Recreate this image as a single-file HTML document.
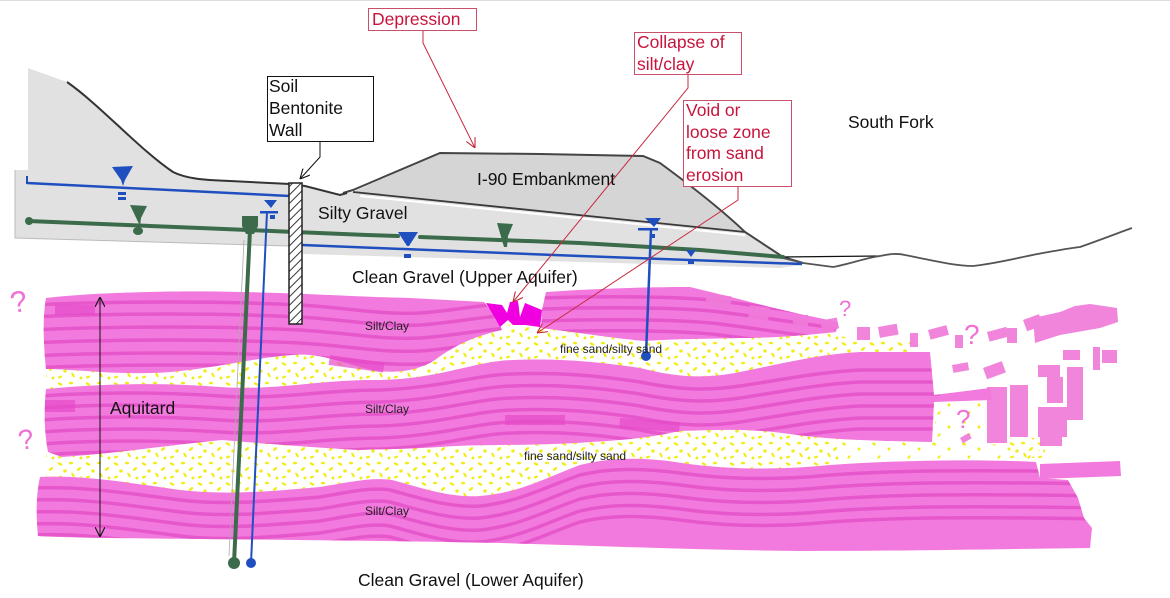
<!DOCTYPE html>
<html><head><meta charset="utf-8"><style>
html,body{margin:0;padding:0;background:#fff;}
svg{display:block;}
text{font-family:"Liberation Sans",Arial,sans-serif;}
</style></head><body>
<svg width="1170" height="598" viewBox="0 0 1170 598" xmlns="http://www.w3.org/2000/svg">
<defs>
<pattern id="sand" width="28" height="20" patternUnits="userSpaceOnUse">
<g fill="#f2ec1e">
<ellipse cx="4" cy="4" rx="2.7" ry="1.3" transform="rotate(30 4 4)"/>
<ellipse cx="15" cy="3" rx="2.2" ry="1.3"/>
<ellipse cx="23" cy="9" rx="2.5" ry="1.3" transform="rotate(-40 23 9)"/>
<ellipse cx="9" cy="11" rx="1.8" ry="1.6"/>
<ellipse cx="17" cy="15" rx="2.7" ry="1.2" transform="rotate(60 17 15)"/>
<ellipse cx="4" cy="17" rx="2.2" ry="1.2" transform="rotate(-20 4 17)"/>
<ellipse cx="25" cy="18" rx="1.5" ry="1.5"/>
</g>
</pattern>
<pattern id="sparse" width="30" height="22" patternUnits="userSpaceOnUse">
<g fill="#f2ec1e">
<ellipse cx="4" cy="4" rx="2" ry="1.3" transform="rotate(30 4 4)"/>
<ellipse cx="19" cy="9" rx="1.5" ry="1.5"/>
<ellipse cx="9" cy="17" rx="2" ry="1.1" transform="rotate(-50 9 17)"/>
</g>
</pattern>
<pattern id="hatch" width="6" height="6" patternUnits="userSpaceOnUse" patternTransform="rotate(45)">
<rect width="6" height="6" fill="#fff"/>
<line x1="0" y1="0" x2="0" y2="6" stroke="#222" stroke-width="1.8"/>
</pattern>
<marker id="ar" viewBox="0 0 10 10" refX="10" refY="5" markerWidth="10" markerHeight="10" orient="auto" markerUnits="userSpaceOnUse">
<path d="M0,0 L10,5 L0,10" fill="none" stroke="#c8283c" stroke-width="1.1"/>
</marker>
<marker id="ak" viewBox="0 0 10 10" refX="10" refY="5" markerWidth="10" markerHeight="10" orient="auto-start-reverse" markerUnits="userSpaceOnUse">
<path d="M0,0 L10,5 L0,10" fill="none" stroke="#111" stroke-width="1.1"/>
</marker>
<clipPath id="c1a"><path d="M46,298 C90,293 170,290 240,292 C300,293 360,297 410,298 L484,302 L497,318 L502,330 C475,336 455,345 435,360 C418,371 395,374 372,370 C345,364 320,352 292,355 C250,358 200,372 150,373 C105,374 72,369 46,369 C44,350 42,320 46,298 Z"/></clipPath>
<clipPath id="c1b"><path d="M546,292 C590,289 640,287 690,287 L727,296 L770,307 L800,314 L838,322 L836,332 C800,336 770,338 740,338 C700,339 670,339 645,341 C610,338 575,332 541,328 L542,310 Z"/></clipPath>
<clipPath id="c2"><path d="M46,389 C100,384 160,382 220,387 C280,391 320,379 380,380 C440,379 475,361 513,360 C560,358 600,362 640,368 C672,376 700,380 740,372 C780,364 820,354 860,352 L930,352 L934,395 L990,388 L992,400 L934,402 L932,442 C880,441 830,440 790,434 C750,428 715,430 680,431 C640,440 605,441 575,443 C520,446 480,444 440,447 C410,449 385,449 360,450 C320,448 270,444 222,440 C170,445 120,453 62,457 L48,452 C44,430 44,410 46,389 Z"/></clipPath>
<clipPath id="c3"><path d="M40,477 C80,475 125,482 180,490 C225,495 265,492 320,487 C350,482 372,477 392,480 C422,488 450,498 480,496 C520,493 550,476 580,465 C612,457 645,457 682,463 C730,470 780,470 830,465 C900,460 980,459 1036,462 L1040,478 L1068,480 L1078,498 L1084,518 L1092,528 L1090,548 C1000,549 900,551 800,551 C700,550 600,546 500,543 C400,541 300,540 200,539 C120,538 70,538 38,536 C36,515 36,495 40,477 Z"/></clipPath>
</defs>

<rect width="1170" height="598" fill="#fff"/>
<line x1="0" y1="0.5" x2="1170" y2="0.5" stroke="#ddd" stroke-width="1"/>

<!-- gray ground / silty gravel -->
<path d="M28,68 L67,82 C100,105 140,150 173,172 C185,178 200,180 230,181 L290,184 L305,186 L340,195 L347,193 L353,192 L745,232 L783,257 L802,265 L780,268 L580,262 L303,254 L290,246 L15,238 L15,170 L28,170 Z" fill="#e1e1e1"/>
<path d="M15,170 L15,238 L290,246" fill="none" stroke="#bbb" stroke-width="1"/>
<!-- embankment -->
<path d="M353,192 L440,153 L643,156 L660,163 C690,185 720,208 745,232 Z" fill="#d5d5d5"/>
<path d="M360,196 L745,235" stroke="#fff" stroke-width="2"/>
<path d="M353,192 L745,232" stroke="#3a3a3a" stroke-width="1.8" fill="none"/>
<path d="M343,193 L353,190 L440,153 L540,154 L643,156 L660,163 C690,185 720,208 745,232 L783,257 L803,263" fill="none" stroke="#444" stroke-width="2"/>
<!-- ridge line -->
<path d="M67,82 C100,105 140,150 173,172 C185,178 200,180 230,181 L290,184 L305,186 L340,195 L347,193" fill="none" stroke="#333" stroke-width="2"/>
<!-- right ground line -->
<path d="M780,257 L880,256" stroke="#111" stroke-width="1.2"/>
<path d="M783,258 L803,263 L833,267 C850,264 865,258 880,256 C890,254 897,253 905,255 C930,260 955,266 973,266 C1000,263 1025,256 1043,253 C1060,250 1070,248 1080,247 C1100,240 1118,233 1132,228" fill="none" stroke="#555" stroke-width="1.8"/>

<!-- sand bands -->
<path d="M46,362 C150,368 250,352 330,350 C390,352 425,342 460,328 L545,322 C600,326 650,334 700,334 C760,334 800,326 850,338 L912,344 L918,362 L860,360 L840,378 L700,385 L513,375 L380,388 L220,395 L46,395 Z" fill="url(#sand)"/>
<path d="M46,435 L222,430 L440,435 L580,430 L790,425 L840,430 L840,470 L780,480 L580,480 L480,505 L320,498 L180,500 L46,495 Z" fill="url(#sand)"/>
<path d="M840,440 C900,442 960,440 1000,445 L1040,450 L1040,462 L840,470 Z" fill="url(#sparse)"/>
<path d="M935,402 L990,402 L990,455 L935,455 Z" fill="url(#sparse)"/>
<path d="M1010,438 L1045,438 L1045,458 L1010,458 Z" fill="url(#sand)"/>
<path d="M865,342 L915,342 L915,358 L865,358 Z" fill="url(#sand)"/>

<!-- pink layers -->
<g fill="#f27ade">
<path d="M46,298 C90,293 170,290 240,292 C300,293 360,297 410,298 L484,302 L497,318 L502,330 C475,336 455,345 435,360 C418,371 395,374 372,370 C345,364 320,352 292,355 C250,358 200,372 150,373 C105,374 72,369 46,369 C44,350 42,320 46,298 Z"/>
<path d="M546,292 C590,289 640,287 690,287 L727,296 L770,307 L800,314 L838,322 L836,332 C800,336 770,338 740,338 C700,339 670,339 645,341 C610,338 575,332 541,328 L542,310 Z"/>
<path d="M46,389 C100,384 160,382 220,387 C280,391 320,379 380,380 C440,379 475,361 513,360 C560,358 600,362 640,368 C672,376 700,380 740,372 C780,364 820,354 860,352 L930,352 L934,395 L990,388 L992,400 L934,402 L932,442 C880,441 830,440 790,434 C750,428 715,430 680,431 C640,440 605,441 575,443 C520,446 480,444 440,447 C410,449 385,449 360,450 C320,448 270,444 222,440 C170,445 120,453 62,457 L48,452 C44,430 44,410 46,389 Z"/>
<path d="M40,477 C80,475 125,482 180,490 C225,495 265,492 320,487 C350,482 372,477 392,480 C422,488 450,498 480,496 C520,493 550,476 580,465 C612,457 645,457 682,463 C730,470 780,470 830,465 C900,460 980,459 1036,462 L1040,478 L1068,480 L1078,498 L1084,518 L1092,528 L1090,548 C1000,549 900,551 800,551 C700,550 600,546 500,543 C400,541 300,540 200,539 C120,538 70,538 38,536 C36,515 36,495 40,477 Z"/>
<path d="M1040,464 L1120,461 L1121,476 L1040,479 Z"/>
</g>

<!-- stripes -->
<g fill="none" stroke="#e34cc6" stroke-width="3.5" opacity="0.75">
<g clip-path="url(#c1a)">
<path id="s1a" d="M30,0 C120,-4 220,-4 300,0 C350,3 380,10 420,8 C450,6 480,0 510,-2" transform="translate(0,305)"/>
<use href="#s1a" transform="translate(0,12)"/>
<use href="#s1a" transform="translate(0,25)"/>
<use href="#s1a" transform="translate(0,38)"/>
<use href="#s1a" transform="translate(0,51)"/>
<use href="#s1a" transform="translate(0,63)"/>
</g>
<g clip-path="url(#c1b)">
<path id="s1b" d="M540,0 C600,-2 680,-2 720,3 C760,8 800,14 840,20" transform="translate(0,298)"/>
<use href="#s1b" transform="translate(0,11)"/>
<use href="#s1b" transform="translate(0,23)"/>
<use href="#s1b" transform="translate(0,34)"/>
</g>
<g clip-path="url(#c2)">
<path id="s2" d="M40,0 C100,-4 160,-4 220,0 C280,4 320,-6 380,-6 C440,-8 480,-22 513,-22 C560,-24 600,-20 640,-14 C670,-8 700,-4 740,-10 C780,-16 820,-24 860,-26 L940,-26" transform="translate(0,396)"/>
<use href="#s2" transform="translate(0,12)"/>
<use href="#s2" transform="translate(0,24)"/>
<use href="#s2" transform="translate(0,36)"/>
<use href="#s2" transform="translate(0,48)"/>
<use href="#s2" transform="translate(0,59)"/>
</g>
<g clip-path="url(#c3)">
<path id="s3" d="M30,0 C80,-2 120,4 180,12 C220,17 260,14 320,9 C350,4 370,-1 390,2 C420,10 450,20 480,18 C520,14 550,-3 580,-13 C610,-20 640,-20 680,-15 C730,-8 780,-8 830,-13 C900,-18 980,-18 1100,-16" transform="translate(0,488)"/>
<use href="#s3" transform="translate(0,12)"/>
<use href="#s3" transform="translate(0,24)"/>
<use href="#s3" transform="translate(0,36)"/>
<use href="#s3" transform="translate(0,47)"/>
</g>
</g>
<g fill="#e64ac8" opacity="0.7">
<rect x="330" y="355" width="55" height="10" transform="rotate(8 330 355)"/>
<rect x="505" y="415" width="60" height="10"/>
<rect x="620" y="418" width="60" height="10" transform="rotate(4 620 418)"/>
<rect x="55" y="305" width="40" height="10"/>
<rect x="45" y="400" width="30" height="12"/>
</g>

<!-- fragments right -->
<g fill="#f07ad9" opacity="0.92">
<rect x="707" y="293" width="25" height="13" transform="rotate(8 707 293)"/>
<rect x="750" y="305" width="20" height="13" transform="rotate(8 750 305)"/>
<rect x="793" y="315" width="15" height="11"/>
<rect x="823" y="320" width="14" height="10" transform="rotate(-10 823 320)"/>
<rect x="820" y="322" width="17" height="11" transform="rotate(-15 820 322)"/>
<rect x="857" y="327" width="13" height="13"/>
<rect x="878" y="327" width="19" height="11" transform="rotate(-10 878 327)"/>
<rect x="910" y="333" width="8" height="14"/>
<rect x="928" y="330" width="19" height="10" transform="rotate(-15 928 330)"/>
<rect x="955" y="335" width="8" height="13"/>
<rect x="987" y="332" width="20" height="10" transform="rotate(-15 987 332)"/>
<rect x="1007" y="328" width="10" height="15"/>
<rect x="1023" y="320" width="17" height="12" transform="rotate(-20 1023 320)"/>
<path d="M1033,318 L1060,312 L1075,306 L1090,304 L1117,308 L1118,322 L1100,328 L1060,335 L1035,343 Z"/>
<rect x="1063" y="350" width="17" height="10"/>
<rect x="1093" y="347" width="7" height="23"/>
<rect x="1102" y="350" width="15" height="13"/>
<rect x="952" y="365" width="16" height="8" transform="rotate(-10 952 365)"/>
<rect x="983" y="368" width="20" height="12" transform="rotate(-20 983 368)"/>
<rect x="1038" y="365" width="22" height="12"/>
<rect x="1047" y="377" width="16" height="26"/>
<rect x="1067" y="367" width="16" height="53"/>
<rect x="987" y="387" width="20" height="56"/>
<rect x="1010" y="385" width="18" height="52"/>
<rect x="1038" y="407" width="29" height="30"/>
<rect x="1040" y="432" width="22" height="14"/>
<rect x="960" y="438" width="10" height="6" transform="rotate(-30 960 438)"/>
</g>

<!-- question marks -->
<g fill="#f070d6" font-family="Liberation Sans, sans-serif">
<text x="10" y="312" font-size="30" transform="rotate(-10 18 300)">?</text>
<text x="18" y="449" font-size="28" transform="rotate(-10 26 438)">?</text>
<text x="839" y="316" font-size="22">?</text>
<text x="964" y="344" font-size="28">?</text>
<text x="956" y="428" font-size="26">?</text>
</g>

<!-- collapse feature -->
<path d="M486,303 L502,305 L507,313 L510,302 L518,301 L520,317 L525,303 L542,310 L540,327 L525,325 L513,325 L508,320 L500,327 L495,318 Z" fill="#f000e0"/>

<!-- water lines -->
<path d="M27,183 L290,196" stroke="#1f4fbf" stroke-width="2.5" fill="none"/>
<path d="M27,176 L27,184" stroke="#1f4fbf" stroke-width="2"/>
<path d="M28,221 L200,228 L367,235 L398,236" stroke="#3b6b4a" stroke-width="4" fill="none" stroke-linecap="round"/>
<path d="M420,237 L580,243 L700,250 L783,257" stroke="#3b6b4a" stroke-width="4" fill="none" stroke-linecap="round"/>
<circle cx="29" cy="221" r="4" fill="#3b6b4a"/>
<path d="M302,245 L580,256 L802,264" stroke="#1f4fbf" stroke-width="2.5" fill="none"/>

<!-- symbols -->
<g fill="#1f4fbf">
<path d="M112,167 L133,166 L125,180 L123,186 L121,180 Z"/>
<rect x="118" y="192" width="8" height="3"/>
<rect x="118" y="197" width="8" height="3"/>
<path d="M264,200 L277,200 L271,208 Z"/>
<rect x="260" y="211" width="18" height="2.5"/>
<rect x="270" y="215" width="5" height="4"/>
<path d="M398,232 L418,232 L409,246 L407,246 Z"/>
<rect x="404" y="254" width="7" height="4"/>
<path d="M645,218 L661,218 L654,227 Z"/>
<rect x="638" y="228" width="20" height="2.5"/>
<rect x="650" y="234" width="5" height="4"/>
<path d="M686,250 L696,250 L691,257 Z"/>
<rect x="688" y="260" width="6" height="4"/>
</g>
<g fill="#3b6b4a">
<path d="M130,205 L147,206 L141,218 L140,226 Z"/>
<ellipse cx="138" cy="231" rx="5" ry="4"/>
<path d="M242,216 L258,216 L258,226 L254,234 L246,234 L242,226 Z"/>
<path d="M497,223 L513,224 L508,236 L507,247 L504,247 Z"/>
</g>

<!-- wells -->
<path d="M244,240 L229,556" stroke="#aaa" stroke-width="0.8"/>
<path d="M250,230 L234,563" stroke="#3b6b4a" stroke-width="4"/>
<circle cx="234" cy="563" r="6" fill="#3b6b4a"/>
<path d="M267,212 L251,563" stroke="#1f4fbf" stroke-width="2"/>
<circle cx="251" cy="563" r="5" fill="#1f4fbf"/>
<path d="M651,229 L646,355" stroke="#1f4fbf" stroke-width="2.5"/>
<circle cx="646" cy="356" r="5" fill="#1f4fbf"/>

<!-- wall -->
<rect x="289" y="183" width="13" height="141" fill="url(#hatch)" stroke="#222" stroke-width="1.5"/>

<!-- aquitard arrow -->
<line x1="100" y1="297" x2="100" y2="537" stroke="#111" stroke-width="1" marker-start="url(#ak)" marker-end="url(#ak)"/>

<!-- callouts -->
<rect x="368.5" y="8.5" width="108" height="22" fill="#fff" stroke="#c8506a" stroke-width="1"/>
<rect x="634.5" y="32.5" width="107" height="42" fill="#fff" stroke="#c8506a" stroke-width="1"/>
<rect x="683.5" y="100.5" width="108" height="86" fill="#fff" stroke="#c8506a" stroke-width="1"/>
<rect x="267.5" y="76.5" width="106" height="65" fill="#fff" stroke="#111" stroke-width="1"/>
<path d="M423,31 L423,43 L475,148" fill="none" stroke="#c8283c" stroke-width="1" marker-end="url(#ar)"/>
<path d="M688,75 L688,88 L513,302" fill="none" stroke="#c8283c" stroke-width="1" marker-end="url(#ar)"/>
<path d="M738,187 L738,200 L537,333" fill="none" stroke="#c8283c" stroke-width="1" marker-end="url(#ar)"/>
<path d="M320,142 L320,157 L300,179" fill="none" stroke="#111" stroke-width="1" marker-end="url(#ak)"/>

<g fill="#c8143c" font-size="17.5">
<text x="372" y="25">Depression</text>
<text x="637" y="48">Collapse of</text>
<text x="637" y="70">silt/clay</text>
<text x="686" y="116">Void or</text>
<text x="686" y="138">loose zone</text>
<text x="686" y="159">from sand</text>
<text x="686" y="181">erosion</text>
</g>
<g fill="#111" font-size="17.5">
<text x="269" y="92">Soil</text>
<text x="269" y="114">Bentonite</text>
<text x="269" y="136">Wall</text>
<text x="848" y="128">South Fork</text>
<text x="477" y="185">I-90 Embankment</text>
<text x="318" y="219">Silty Gravel</text>
<text x="352" y="283">Clean Gravel (Upper Aquifer)</text>
<text x="358" y="586">Clean Gravel (Lower Aquifer)</text>
<text x="110" y="414">Aquitard</text>
</g>
<g fill="#222" font-size="12">
<text x="365" y="330">Silt/Clay</text>
<text x="365" y="413">Silt/Clay</text>
<text x="365" y="515">Silt/Clay</text>
<text x="560" y="353">fine sand/silty sand</text>
<text x="524" y="460">fine sand/silty sand</text>
</g>
</svg>
</body></html>
